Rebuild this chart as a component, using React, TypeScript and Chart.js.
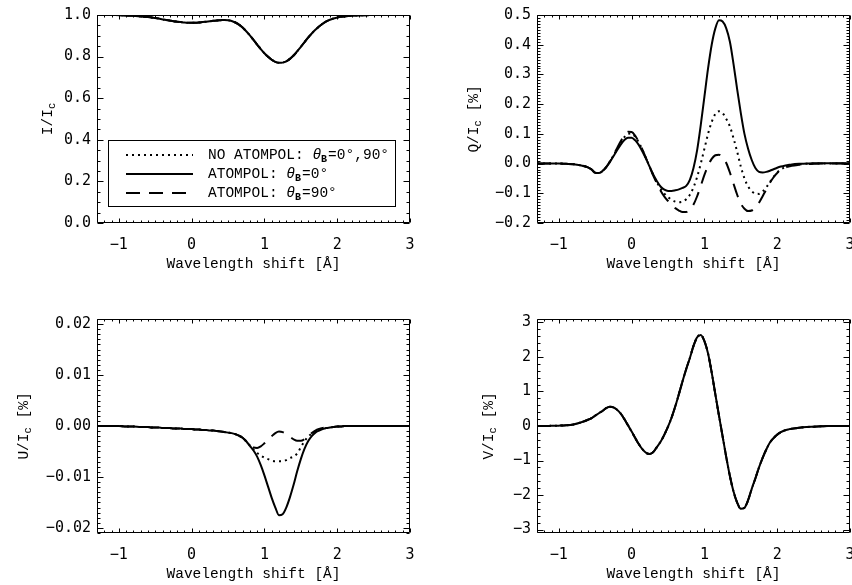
import React, { useEffect, useRef } from "react";
import { Chart, registerables } from "chart.js";

Chart.register(...registerables);

// Wavelength shift grid [Å]
const wavelength = [
  -1.3, -1.2, -1.1, -1.0, -0.9, -0.8, -0.7,
  -0.6, -0.55, -0.5, -0.45, -0.4, -0.35, -0.3, -0.25, -0.2, -0.15, -0.1, -0.05,
  0, 0.05, 0.1, 0.15, 0.2, 0.25, 0.3, 0.35, 0.4, 0.45, 0.5, 0.55,
  0.6, 0.65, 0.7, 0.75, 0.8, 0.85, 0.9, 0.95, 1.0, 1.05, 1.1, 1.15,
  1.2, 1.25, 1.3, 1.35, 1.4, 1.45, 1.5, 1.55, 1.6, 1.65, 1.7, 1.75,
  1.8, 1.85, 1.9, 1.95, 2.0, 2.05, 2.1, 2.15, 2.2,
  2.3, 2.4, 2.5, 2.6, 2.7, 2.8, 2.9, 3.0,
];

// I/Ic (identical for all three cases)
const stokesI = [
  1.0, 1.0, 1.0, 0.999, 0.998, 0.996, 0.993,
  0.99, 0.988, 0.986, 0.983, 0.979, 0.976, 0.973, 0.97, 0.968, 0.966, 0.964, 0.963,
  0.963, 0.963, 0.964, 0.966, 0.968, 0.97, 0.972, 0.974, 0.975, 0.976, 0.975, 0.971,
  0.964, 0.954, 0.94, 0.922, 0.902, 0.88, 0.858, 0.836, 0.816, 0.799, 0.785, 0.775,
  0.77, 0.771, 0.777, 0.789, 0.805, 0.825, 0.847, 0.869, 0.891, 0.911, 0.929, 0.945,
  0.958, 0.969, 0.977, 0.983, 0.988, 0.991, 0.993, 0.995, 0.996,
  0.998, 0.999, 1.0, 1.0, 1.0, 1.0, 1.0, 1.0,
];

// Q/Ic [%]
const qNoAtompol = [
  0, 0, 0, 0, -0.001, -0.002, -0.006,
  -0.013, -0.02, -0.031, -0.032, -0.025, -0.012, 0.006, 0.027, 0.049, 0.07, 0.089, 0.1,
  0.101, 0.09, 0.07, 0.045, 0.017, -0.012, -0.04, -0.064, -0.085, -0.101, -0.113, -0.122,
  -0.128, -0.13, -0.128, -0.12, -0.105, -0.08, -0.045, 0.0, 0.05, 0.1, 0.14, 0.167,
  0.176, 0.17, 0.15, 0.125, 0.085, 0.04, -0.01, -0.05, -0.077, -0.093, -0.101, -0.102,
  -0.094, -0.08, -0.062, -0.045, -0.03, -0.02, -0.013, -0.009, -0.006,
  -0.003, -0.001, 0, 0, 0, 0, 0, 0,
];
const qAtompol0 = [
  0, 0, 0, 0, -0.001, -0.002, -0.006,
  -0.013, -0.02, -0.031, -0.032, -0.025, -0.013, 0.005, 0.025, 0.045, 0.064, 0.079, 0.087,
  0.087, 0.078, 0.062, 0.04, 0.015, -0.012, -0.038, -0.06, -0.078, -0.088, -0.092, -0.092,
  -0.09, -0.087, -0.082, -0.075, -0.055, -0.015, 0.045, 0.13, 0.225, 0.32, 0.4, 0.455,
  0.482, 0.478, 0.455, 0.41, 0.335, 0.25, 0.17, 0.1, 0.05, 0.012, -0.015, -0.028,
  -0.03, -0.028, -0.024, -0.019, -0.014, -0.01, -0.007, -0.005, -0.003,
  -0.001, 0, 0.001, 0.001, 0.001, 0.001, 0.001, 0.001,
];
const qAtompol90 = [
  0, 0, 0, 0, -0.001, -0.002, -0.006,
  -0.013, -0.02, -0.031, -0.032, -0.025, -0.012, 0.006, 0.028, 0.052, 0.075, 0.095, 0.107,
  0.106, 0.093, 0.072, 0.046, 0.017, -0.013, -0.042, -0.068, -0.092, -0.111, -0.126, -0.139,
  -0.15, -0.158, -0.163, -0.163, -0.155, -0.138, -0.11, -0.075, -0.038, -0.007, 0.016, 0.028,
  0.03, 0.022, 0.002, -0.03, -0.068, -0.105, -0.135, -0.152, -0.16, -0.158, -0.148, -0.132,
  -0.11, -0.087, -0.065, -0.046, -0.032, -0.022, -0.015, -0.01, -0.007,
  -0.004, -0.002, -0.001, 0, 0, 0, 0, 0,
];

// U/Ic [%]
const uNoAtompol = [
  0, 0, 0, 0, -0.0001, -0.0001, -0.0002,
  -0.0002, -0.0003, -0.0003, -0.0003, -0.0004, -0.0004, -0.0004, -0.0005, -0.0005, -0.0005, -0.0006, -0.0006,
  -0.0006, -0.0007, -0.0007, -0.0008, -0.0008, -0.0009, -0.0009, -0.001, -0.0011, -0.0012, -0.0013, -0.0014,
  -0.0016, -0.0019, -0.0023, -0.003, -0.0038, -0.0046, -0.0053, -0.0058, -0.0062, -0.0065, -0.0068, -0.0069,
  -0.0069, -0.0069, -0.0067, -0.0063, -0.006, -0.0054, -0.0042, -0.003, -0.0021, -0.0015, -0.001, -0.0007,
  -0.0005, -0.0004, -0.0003, -0.0002, -0.0001, -0.0001, 0, 0, 0,
  0, 0, 0, 0, 0, 0, 0, 0,
];
const uAtompol0 = [
  0, 0, 0, 0, -0.0001, -0.0001, -0.0002,
  -0.0002, -0.0003, -0.0003, -0.0003, -0.0004, -0.0004, -0.0004, -0.0005, -0.0005, -0.0005, -0.0006, -0.0006,
  -0.0006, -0.0007, -0.0007, -0.0008, -0.0008, -0.0009, -0.0009, -0.001, -0.0011, -0.0012, -0.0013, -0.0014,
  -0.0016, -0.0019, -0.0023, -0.003, -0.0039, -0.0048, -0.006, -0.0077, -0.0097, -0.0119, -0.0141, -0.016,
  -0.0175, -0.0173, -0.016, -0.014, -0.0116, -0.0089, -0.0065, -0.0045, -0.003, -0.002, -0.0013, -0.0009,
  -0.0006, -0.0004, -0.0003, -0.0002, -0.0001, -0.0001, 0, 0, 0,
  0, 0, 0, 0, 0, 0, 0, 0,
];
const uAtompol90 = [
  0, 0, 0, 0, -0.0001, -0.0001, -0.0002,
  -0.0002, -0.0003, -0.0003, -0.0003, -0.0004, -0.0004, -0.0004, -0.0005, -0.0005, -0.0005, -0.0006, -0.0006,
  -0.0006, -0.0007, -0.0007, -0.0008, -0.0008, -0.0009, -0.0009, -0.001, -0.0011, -0.0012, -0.0013, -0.0014,
  -0.0016, -0.0019, -0.0023, -0.003, -0.0037, -0.0042, -0.0043, -0.004, -0.0034, -0.0027, -0.002, -0.0014,
  -0.0011, -0.0012, -0.0016, -0.0021, -0.0026, -0.0029, -0.0029, -0.0026, -0.002, -0.0014, -0.0009, -0.0006,
  -0.0004, -0.0003, -0.0002, -0.0002, -0.0001, -0.0001, 0, 0, 0,
  0, 0, 0, 0, 0, 0, 0, 0,
];

// V/Ic [%] (identical for all three cases)
const stokesV = [
  0, 0, 0.005, 0.01, 0.02, 0.045, 0.1,
  0.18, 0.23, 0.3, 0.37, 0.44, 0.52, 0.56, 0.54, 0.47, 0.36, 0.2, 0.02,
  -0.16, -0.35, -0.53, -0.68, -0.78, -0.81, -0.75, -0.6, -0.45, -0.25, -0.02, 0.25,
  0.57, 0.93, 1.3, 1.65, 1.97, 2.32, 2.57, 2.64, 2.46, 2.1, 1.55, 0.92,
  0.3, -0.3, -0.9, -1.45, -1.9, -2.22, -2.4, -2.37, -2.15, -1.82, -1.52, -1.2,
  -0.92, -0.68, -0.48, -0.35, -0.25, -0.18, -0.13, -0.1, -0.08,
  -0.05, -0.03, -0.02, -0.01, 0, 0, 0, 0,
];

// Axis ticks
const xTickValues = [-1, 0, 1, 2, 3];
const iTickValues = [0, 0.2, 0.4, 0.6, 0.8, 1.0];
const qTickValues = [-0.2, -0.1, 0, 0.1, 0.2, 0.3, 0.4, 0.5];
const uTickValues = [-0.02, -0.01, 0, 0.01, 0.02];
const vTickValues = [-3, -2, -1, 0, 1, 2, 3];

// Legend entries (prefix, angle text)
const legendPrefixes = ["NO ATOMPOL: ", "ATOMPOL: ", "ATOMPOL: "];
const legendAngles = ["0°,90°", "0°", "90°"];

const xTitle = "Wavelength shift [Å]";

// ---------- styles / layout ----------
const CW = 440;
const AREA_L = 97;
const AREA_R = 410;
const MONO = '"Liberation Mono", "DejaVu Sans Mono", monospace';
const TICKFONT = '"DejaVu Sans Mono", monospace';
const lineStyles = [
  { borderDash: [2, 4], borderWidth: 2 },
  { borderDash: [] as number[], borderWidth: 2 },
  { borderDash: [14, 9], borderWidth: 2 },
];

const fmt = (v: number, d: number) => {
  const s = Math.abs(v) < 1e-12 ? (0).toFixed(d) : v.toFixed(d);
  return s.replace("-", "\u2212");
};

const idlPlugin = {
  id: "idl",
  afterDraw(chart: any, _args: any, opts: any) {
    const { ctx, chartArea } = chart;
    const { left, right, top, bottom } = chartArea;
    const xs = chart.scales.x;
    const ys = chart.scales.y;
    ctx.save();
    ctx.strokeStyle = "#000";
    ctx.fillStyle = "#000";
    ctx.lineWidth = 1;
    ctx.setLineDash([]);
    const L = Math.round(left) + 0.5;
    const R = Math.round(right) - 0.5;
    const T = Math.round(top) + 0.5;
    const B = Math.round(bottom) - 0.5;
    ctx.beginPath();
    ctx.rect(L, T, R - L, B - T);
    const isMajor = (v: number, list: number[]) => list.some((m) => Math.abs(m - v) < 1e-9);
    // x ticks
    const xStep = opts.xMinorStep;
    for (let n = Math.ceil(xs.min / xStep - 1e-6); n * xStep <= xs.max + 1e-6; n++) {
      const v = n * xStep;
      const len = isMajor(v, xTickValues) ? 4 : 2;
      const p = Math.round(xs.getPixelForValue(v)) + 0.5;
      ctx.moveTo(p, B); ctx.lineTo(p, B - len);
      ctx.moveTo(p, T); ctx.lineTo(p, T + len);
    }
    const yStep = opts.yMinorStep;
    for (let n = Math.ceil(ys.min / yStep - 1e-6); n * yStep <= ys.max + 1e-6 * Math.abs(ys.max - ys.min); n++) {
      const v = n * yStep;
      const len = isMajor(v, opts.yMajor) ? 6 : 3;
      const p = Math.round(ys.getPixelForValue(v)) + 0.5;
      ctx.moveTo(L, p); ctx.lineTo(L + len, p);
      ctx.moveTo(R, p); ctx.lineTo(R - len, p);
    }
    ctx.stroke();

    // x title
    ctx.font = `14.5px ${MONO}`;
    ctx.textAlign = "center";
    ctx.textBaseline = "middle";
    ctx.fillText(xTitle, (left + right) / 2, bottom + opts.xTitleGap);

    // y title with subscript
    ctx.save();
    const mainFont = `14.5px ${MONO}`;
    const subFont = `10.5px ${MONO}`;
    ctx.font = mainFont;
    const w1 = ctx.measureText(opts.yTitleMain).width;
    const w3 = ctx.measureText(opts.yTitleSuffix).width;
    ctx.font = subFont;
    const w2 = ctx.measureText(opts.yTitleSub).width;
    ctx.translate(left - opts.yTitleOffset, (top + bottom) / 2);
    ctx.rotate(-Math.PI / 2);
    ctx.textAlign = "left";
    let x0 = -(w1 + w2 + w3) / 2;
    ctx.font = mainFont;
    ctx.fillText(opts.yTitleMain, x0, 0);
    x0 += w1;
    ctx.font = subFont;
    ctx.fillText(opts.yTitleSub, x0, 4);
    x0 += w2;
    ctx.font = mainFont;
    ctx.fillText(opts.yTitleSuffix, x0, 0);
    ctx.restore();

    // legend
    if (opts.legend) {
      const lg = opts.legend;
      const bl = left + lg.dl, br = right - lg.dr, bt = lg.top, bb = bottom - lg.db;
      ctx.lineWidth = 1;
      ctx.setLineDash([]);
      ctx.strokeRect(Math.round(bl) + 0.5, Math.round(bt) + 0.5, Math.round(br - bl), Math.round(bb - bt));
      chart.data.datasets.forEach((ds: any, i: number) => {
        const y = lg.rowY[i];
        ctx.save();
        ctx.lineWidth = ds.borderWidth;
        ctx.setLineDash(ds.borderDash || []);
        ctx.beginPath();
        ctx.moveTo(left + lg.lineX1, y);
        ctx.lineTo(left + lg.lineX2, y);
        ctx.stroke();
        ctx.restore();
        ctx.textAlign = "left";
        ctx.textBaseline = "middle";
        let tx = left + lg.textX;
        ctx.font = `14.5px ${MONO}`;
        ctx.fillText(legendPrefixes[i], tx, y);
        tx += ctx.measureText(legendPrefixes[i]).width;
        ctx.font = `italic 14.5px ${MONO}`;
        ctx.fillText("θ", tx, y);
        tx += ctx.measureText("θ").width;
        ctx.font = `bold 10px ${MONO}`;
        ctx.fillText("B", tx, y + 4);
        tx += ctx.measureText("B").width + 1;
        ctx.font = `14.5px ${MONO}`;
        ctx.fillText("=" + legendAngles[i], tx, y);
      });
    }
    ctx.restore();
  },
};

type PanelDef = {
  col: number;
  row: number;
  series: number[][];
  yMin: number;
  yMax: number;
  yTicks: number[];
  yDecimals: number;
  yMinorStep: number;
  yTitleMain: string;
  yTitleSub: string;
  yTitleSuffix: string;
  yTitleOffset: number;
  legend?: any;
};

const panels: PanelDef[] = [
  {
    col: 0, row: 0, series: [stokesI, stokesI, stokesI],
    yMin: 0, yMax: 1.0, yTicks: iTickValues, yDecimals: 1, yMinorStep: 0.05,
    yTitleMain: "I/I", yTitleSub: "c", yTitleSuffix: "", yTitleOffset: 49,
    legend: { dl: 11, dr: 15, top: 140, db: 17, rowY: [155, 174, 193], lineX1: 29, lineX2: 96, textX: 111 },
  },
  {
    col: 1, row: 0, series: [qNoAtompol, qAtompol0, qAtompol90],
    yMin: -0.2, yMax: 0.5, yTicks: qTickValues, yDecimals: 1, yMinorStep: 0.01,
    yTitleMain: "Q/I", yTitleSub: "c", yTitleSuffix: " [%]", yTitleOffset: 63,
  },
  {
    col: 0, row: 1, series: [uNoAtompol, uAtompol0, uAtompol90],
    yMin: -0.021, yMax: 0.021, yTicks: uTickValues, yDecimals: 2, yMinorStep: 0.001,
    yTitleMain: "U/I", yTitleSub: "c", yTitleSuffix: " [%]", yTitleOffset: 73,
  },
  {
    col: 1, row: 1, series: [stokesV, stokesV, stokesV],
    yMin: -3.1, yMax: 3.1, yTicks: vTickValues, yDecimals: 0, yMinorStep: 0.2,
    yTitleMain: "V/I", yTitleSub: "c", yTitleSuffix: " [%]", yTitleOffset: 48,
  },
];

function Panel({ def }: { def: PanelDef }) {
  const ref = useRef<HTMLCanvasElement | null>(null);
  const H = def.row === 0 ? 292 : 293;
  const T = def.row === 0 ? 9 : 27;
  const B = def.row === 0 ? 223 : 241;
  useEffect(() => {
    if (!ref.current) return;
    const chart = new Chart(ref.current, {
      type: "line",
      data: {
        datasets: def.series.map((s, i) => ({
          label: legendPrefixes[i] + legendAngles[i],
          data: wavelength.map((x, k) => ({ x, y: s[k] })),
          borderColor: "#000",
          backgroundColor: "#000",
          borderWidth: lineStyles[i].borderWidth,
          borderDash: lineStyles[i].borderDash,
          pointRadius: 0,
          cubicInterpolationMode: "monotone" as const,
          fill: false,
        })),
      },
      options: {
        animation: false,
        responsive: false,
        events: [],
        layout: { padding: { left: 0, right: CW - AREA_R, top: T, bottom: 0 } },
        plugins: {
          legend: { display: false },
          tooltip: { enabled: false },
          idl: {
            xMinorStep: 0.1,
            yMinorStep: def.yMinorStep,
            yMajor: def.yTicks,
            xTitleGap: 41,
            yTitleMain: def.yTitleMain,
            yTitleSub: def.yTitleSub,
            yTitleSuffix: def.yTitleSuffix,
            yTitleOffset: def.yTitleOffset,
            legend: def.legend,
          },
        } as any,
        scales: {
          x: {
            type: "linear",
            min: -1.3,
            max: 3.0,
            afterBuildTicks: (s: any) => { s.ticks = xTickValues.map((v) => ({ value: v })); },
            afterFit: (s: any) => { s.height = H - B; },
            grid: { display: false, drawTicks: false },
            border: { display: false },
            ticks: {
              color: "#000",
              padding: 13,
              maxRotation: 0,
              autoSkip: false,
              font: { family: TICKFONT, size: 15 },
              callback: (v: any) => fmt(Number(v), 0),
            },
          },
          y: {
            type: "linear",
            min: def.yMin,
            max: def.yMax,
            afterBuildTicks: (s: any) => { s.ticks = def.yTicks.map((v) => ({ value: v })); },
            afterFit: (s: any) => { s.width = AREA_L; },
            grid: { display: false, drawTicks: false },
            border: { display: false },
            ticks: {
              color: "#000",
              padding: 6,
              autoSkip: false,
              font: { family: TICKFONT, size: 15 },
              callback: (v: any) => fmt(Number(v), def.yDecimals),
            },
          },
        },
      },
      plugins: [idlPlugin],
    } as any);
    return () => chart.destroy();
  }, []);
  return (
    <canvas
      ref={ref}
      width={CW}
      height={H}
      style={{ position: "absolute", left: def.col * CW, top: def.row * 292, width: CW, height: H }}
    />
  );
}

export default function App() {
  return (
    <div
      style={{
        position: "fixed",
        left: 0,
        top: 0,
        width: 852,
        height: 585,
        overflow: "hidden",
        background: "#fff",
      }}
    >
      {panels.map((p, i) => (
        <Panel key={i} def={p} />
      ))}
    </div>
  );
}
